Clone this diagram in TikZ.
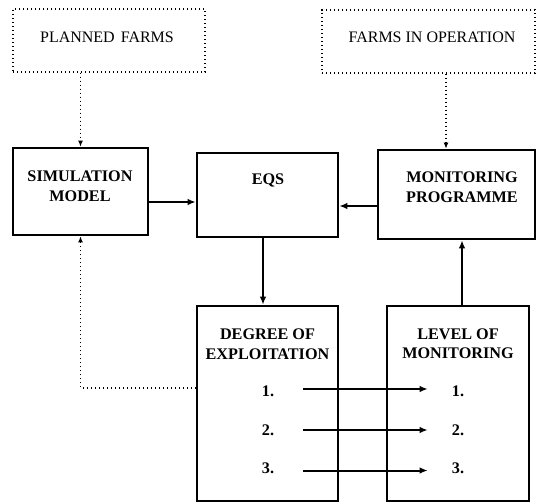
\documentclass[tikz,border=0pt]{standalone}
\usepackage{fontspec}
\setmainfont{Liberation Serif}
\usetikzlibrary{arrows.meta}
\begin{document}
\begin{tikzpicture}[x=1pt,y=-1pt,
  solidbox/.style={draw, line width=2.6pt, inner sep=0pt},
  dotbox/.style={draw, line width=1.2pt, dash pattern=on 1.2pt off 2.8pt, inner sep=0pt},
  plain/.style={font=\fontsize{16}{19}\selectfont, inner sep=0pt},
  bold/.style={font=\fontsize{16.2}{19.5}\selectfont\bfseries, align=center, inner sep=0pt},
  arr/.style={line width=2pt, -{Latex[length=8pt,width=6.5pt]}},
  dotarr/.style={line width=1.2pt, dash pattern=on 1.2pt off 2.8pt, -{Latex[length=6pt,width=5pt]}}]
\useasboundingbox (0,0) rectangle (537,502);
% boxes
\node[dotbox, minimum width=192pt, minimum height=63pt] (pf) at (109,40.5) {};
\node[dotbox, minimum width=213pt, minimum height=63pt] (fio) at (428.5,41.5) {};
\node[solidbox, minimum width=135pt, minimum height=87pt] (sim) at (80.5,191.5) {};
\node[solidbox, minimum width=141pt, minimum height=84pt] (eqs) at (267.5,195) {};
\node[solidbox, minimum width=157pt, minimum height=89pt] (mon) at (456.5,194.5) {};
\node[solidbox, minimum width=141pt, minimum height=195pt] (deg) at (267.5,403.5) {};
\node[solidbox, minimum width=142pt, minimum height=195pt] (lev) at (458,403.5) {};
% texts
\node[plain] (pft) at (107,37) {PLANNED\hspace{2pt} FARMS};
\node[plain] (fiot) at (432,37) {FARMS IN OPERATION};
\node[bold] (simt) at (80,186) {SIMULATION\\MODEL};
\node[bold] (eqst) at (268,180.5) {EQS};
\node[bold] (mont) at (462,187) {MONITORING\\PROGRAMME};
\node[bold] (degt) at (267.5,344) {DEGREE OF\\EXPLOITATION};
\node[bold] (levt) at (458,343.5) {LEVEL OF\\MONITORING};
\node[bold] (e1) at (268,391) {1.};
\node[bold] (e2) at (268,430) {2.};
\node[bold] (e3) at (268,468.5) {3.};
\node[bold] (l1) at (458,391) {1.};
\node[bold] (l2) at (458,430) {2.};
\node[bold] (l3) at (458,468.5) {3.};
% connectors
\draw[dotarr] (sim.north |- pf.south) -- (sim.north);
\coordinate (mtop) at ([xshift=-10.5pt]mon.north);
\draw[dotarr] (fio.south -| mtop) -- (mtop);
\coordinate (sime) at ([yshift=-10.5pt]sim.east);
\draw[arr] (sime) -- (eqs.west |- sime);
\coordinate (monw) at ([yshift=-11.5pt]mon.west);
\draw[arr] (monw) -- (eqs.east |- monw);
\coordinate (eqsb) at ([xshift=-4.5pt]eqs.south);
\draw[arr] (eqsb) -- (deg.north -| eqsb);
\coordinate (levn) at ([xshift=4pt]lev.north);
\draw[arr] (levn) -- (mon.south -| levn);
\coordinate (degw) at ([yshift=15.5pt]deg.west);
\draw[dotarr] (degw) -| (sim.south);
\draw[arr] ([xshift=29pt,yshift=2pt]e1.east) -- ([xshift=-24pt,yshift=2pt]l1.west);
\draw[arr] ([xshift=29pt]e2.east) -- ([xshift=-24pt]l2.west);
\draw[arr] ([xshift=29pt,yshift=-2pt]e3.east) -- ([xshift=-24pt,yshift=-2pt]l3.west);
\end{tikzpicture}
\end{document}
